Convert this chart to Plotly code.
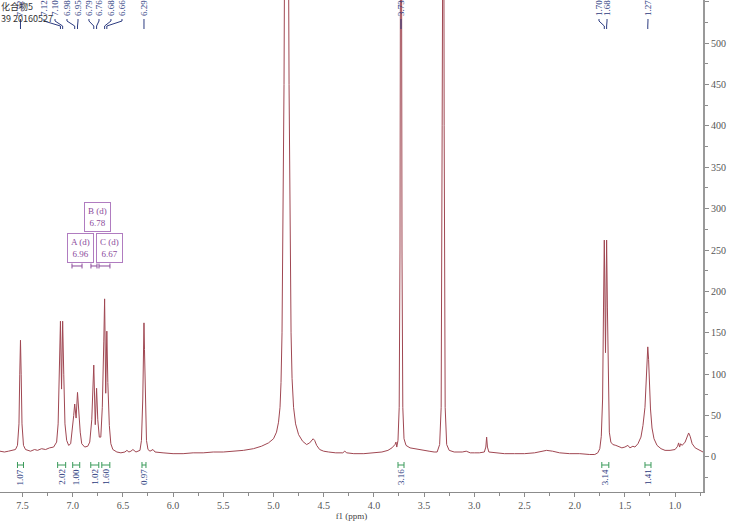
import plotly.graph_objects as go

# ---------------- data ----------------
ppm = [7.724, 7.68, 7.64, 7.60, 7.57, 7.55, 7.535, 7.527, 7.52, 7.513, 7.505, 7.49, 7.47, 7.42, 7.38, 7.35,
       7.31, 7.27, 7.23, 7.19, 7.16, 7.145, 7.133, 7.122, 7.111, 7.100, 7.089, 7.077, 7.06, 7.04, 7.02,
       7.005, 6.99, 6.98, 6.966, 6.952, 6.94, 6.925, 6.91, 6.88, 6.85, 6.83, 6.81, 6.79, 6.775, 6.762,
       6.75, 6.735, 6.72, 6.705, 6.69, 6.682, 6.671, 6.66, 6.65, 6.635, 6.62, 6.60, 6.56, 6.52, 6.48,
       6.46, 6.44, 6.42, 6.40, 6.37, 6.33, 6.315, 6.302, 6.295, 6.29, 6.285, 6.278, 6.265, 6.25, 6.23,
       6.20, 6.18, 6.10, 6.00, 5.90, 5.80, 5.70, 5.60, 5.50, 5.40, 5.30, 5.20, 5.12, 5.05, 5.00, 4.97,
       4.95, 4.935, 4.925, 4.915, 4.905, 4.895, 4.885, 4.875, 4.865, 4.855, 4.845, 4.835, 4.825, 4.815,
       4.80, 4.78, 4.75, 4.71, 4.67, 4.64, 4.62, 4.605, 4.59, 4.57, 4.54, 4.50, 4.45, 4.38, 4.31, 4.29,
       4.27, 4.20, 4.10, 4.00, 3.92, 3.86, 3.82, 3.79, 3.78, 3.772, 3.76, 3.748, 3.74, 3.733, 3.727,
       3.72, 3.712, 3.70, 3.68, 3.64, 3.60, 3.55, 3.50, 3.45, 3.40, 3.37, 3.345, 3.33, 3.32, 3.313,
       3.307, 3.30, 3.29, 3.275, 3.25, 3.20, 3.12, 3.08, 3.04, 3.00, 2.95, 2.90, 2.885, 2.877, 2.869,
       2.855, 2.80, 2.70, 2.60, 2.50, 2.40, 2.33, 2.28, 2.22, 2.15, 2.05, 1.95, 1.85, 1.80, 1.77, 1.75,
       1.735, 1.722, 1.713, 1.705, 1.693, 1.682, 1.674, 1.665, 1.655, 1.64, 1.62, 1.59, 1.56, 1.53,
       1.50, 1.47, 1.45, 1.42, 1.40, 1.37, 1.34, 1.32, 1.30, 1.29, 1.28, 1.272, 1.264, 1.255, 1.245,
       1.23, 1.21, 1.18, 1.14, 1.10, 1.05, 1.00, 0.975, 0.965, 0.955, 0.945, 0.93, 0.90, 0.88, 0.865,
       0.85, 0.83, 0.80, 0.76, 0.722]
intensity = [7, 6, 7, 8, 9, 14, 40, 100, 141, 100, 40, 14, 9, 7, 9, 8,
             10, 9, 11, 12, 18, 40, 100, 164, 82, 164, 100, 40, 20, 14, 16,
             30, 50, 64, 47, 78, 55, 30, 16, 12, 13, 18, 45, 111, 39, 83,
             45, 24, 24, 60, 140, 191, 77, 152, 90, 38, 16, 9, 6, 5, 6,
             8, 6, 7, 9, 6, 8, 20, 70, 130, 162, 130, 70, 20, 9, 7,
             9, 6, 5, 4, 4, 5, 5, 6, 6, 7, 8, 10, 13, 17, 22, 30,
             42, 60, 90, 150, 260, 450, 750, 1000, 1000, 750, 450, 260, 150, 95,
             60, 40, 27, 19, 15, 17, 20, 22, 20, 14, 9, 7, 6, 5, 5, 7,
             5, 4, 4, 5, 6, 8, 11, 15, 18, 12, 20, 60, 250, 800, 800,
             250, 60, 22, 14, 11, 10, 9, 8, 7, 6, 6, 15, 60, 400, 900,
             900, 400, 60, 15, 8, 6, 6, 7, 5, 5, 5, 6, 12, 24, 12,
             6, 5, 4, 4, 4, 5, 7, 8, 7, 5, 4, 4, 3, 3, 5, 10,
             25, 70, 180, 262, 126, 262, 180, 70, 30, 18, 15, 14, 12, 11,
             12, 14, 11, 13, 12, 16, 24, 38, 60, 85, 118, 133, 118, 85, 58,
             35, 22, 14, 10, 8, 8, 9, 13, 17, 12, 16, 14, 18, 25, 29,
             25, 16, 11, 8, 6]

# peak picking labels (top)
peak_shifts = [7.52, 7.12, 7.10, 6.98, 6.95, 6.79, 6.76, 6.68, 6.66, 6.29, 3.73, 1.70, 1.68, 1.27]
peak_label_pos = [7.52, 7.286, 7.176, 7.057, 6.947, 6.838, 6.738, 6.619, 6.509, 6.29, 3.73, 1.758, 1.678, 1.27]
peak_draw_at = [7.52, 7.122, 7.100, 6.98, 6.952, 6.79, 6.762, 6.682, 6.66, 6.29, 3.73, 1.705, 1.682, 1.272]

# multiplet boxes
mult_names = ["A (d)", "B (d)", "C (d)"]
mult_shifts = [6.96, 6.78, 6.67]
mult_box_x = [6.927, 6.748, 6.629]
mult_box_y = [252, 290, 252]
mult_ranges = [(7.007, 6.907), (6.818, 6.758), (6.738, 6.629)]

# integrations
integ_values = ["1.07", "2.02", "1.00", "1.02", "1.60", "0.97", "3.16", "3.14", "1.41"]
integ_ranges = [(7.55, 7.49), (7.15, 7.07), (7.00, 6.93), (6.82, 6.74), (6.71, 6.63),
                (6.31, 6.27), (3.76, 3.70), (1.73, 1.66), (1.30, 1.24)]

x_ticks = [1.0, 1.5, 2.0, 2.5, 3.0, 3.5, 4.0, 4.5, 5.0, 5.5, 6.0, 6.5, 7.0, 7.5]
y_ticks = [0, 50, 100, 150, 200, 250, 300, 350, 400, 450, 500, 550]

# ---------------- figure ----------------
PLOT_H = 492.0
def py(px):
    return 1 - px / PLOT_H

LABEL_C = "#2c3b80"
PURPLE = "#8b4a9b"
GREEN = "#3a9a5a"
SERIF = "Liberation Serif"

fig = go.Figure()
fig.add_trace(go.Scatter(x=ppm, y=intensity, mode="lines",
                         line=dict(color="#a04752", width=1), hoverinfo="skip", showlegend=False))

annotations = []
shapes = []

# top-left title
annotations.append(dict(xref="paper", yref="paper", x=0, y=1, xanchor="left", yanchor="top",
                        text="化合物5<br>39 20160527", align="left", showarrow=False,
                        font=dict(family="Noto Sans CJK SC", size=9, color="#333333"),
                        borderpad=0, yshift=1))

# peak labels
for s, lp, pk in zip(peak_shifts, peak_label_pos, peak_draw_at):
    annotations.append(dict(xref="x", yref="paper", x=lp, y=1, yanchor="top", xanchor="center",
                            text=f"{s:.2f}", textangle=-90, showarrow=False, borderpad=0,
                            font=dict(family=SERIF, size=9, color=LABEL_C), yshift=1))
    shapes.append(dict(type="path", xref="x", yref="paper",
                       path=f"M {lp},{py(19)} L {lp},{py(21)} L {pk},{py(26)} L {pk},{py(29)}",
                       line=dict(color=LABEL_C, width=1)))

# multiplet boxes
for name, sh, bx, by, (r1, r2) in zip(mult_names, mult_shifts, mult_box_x, mult_box_y, mult_ranges):
    annotations.append(dict(xref="x", yref="y", x=bx, y=by, text=f"{name}<br>{sh:.2f}",
                            showarrow=False, bordercolor="#b07cc0", borderwidth=1, borderpad=3,
                            bgcolor="white", font=dict(family=SERIF, size=9, color=PURPLE)))
    yb = 230.7
    shapes.append(dict(type="line", xref="x", yref="y", x0=r1, x1=r2, y0=yb, y1=yb,
                       line=dict(color=PURPLE, width=1)))
    for r in (r1, r2):
        shapes.append(dict(type="line", xref="x", yref="y", x0=r, x1=r, y0=yb - 3, y1=yb + 3,
                           line=dict(color=PURPLE, width=1)))

# integrations
for val, (r1, r2) in zip(integ_values, integ_ranges):
    yi = py(465)
    shapes.append(dict(type="line", xref="x", yref="paper", x0=r1, x1=r2, y0=yi, y1=yi,
                       line=dict(color=GREEN, width=1)))
    for r in (r1, r2):
        shapes.append(dict(type="line", xref="x", yref="paper", x0=r, x1=r, y0=yi - 3 / PLOT_H,
                           y1=yi + 3 / PLOT_H, line=dict(color=GREEN, width=1)))
    annotations.append(dict(xref="x", yref="paper", x=(r1 + r2) / 2, y=py(468), yanchor="top",
                            text=val, textangle=-90, showarrow=False, borderpad=0,
                            font=dict(family=SERIF, size=9, color=LABEL_C)))

fig.update_layout(
    width=750, height=522,
    margin=dict(l=0, r=47, t=0, b=30),
    paper_bgcolor="white", plot_bgcolor="white",
    showlegend=False,
    annotations=annotations,
    shapes=shapes,
    xaxis=dict(range=[7.724, 0.722], showgrid=False, zeroline=False,
               showline=True, linecolor="#8c8c8c", linewidth=1,
               ticks="outside", ticklen=4, tickcolor="#8c8c8c",
               tickvals=x_ticks, ticktext=[f"{t:.1f}" for t in x_ticks],
               minor=dict(dtick=0.25, tick0=0, ticks="outside", ticklen=3, tickcolor="#8c8c8c"),
               tickfont=dict(family=SERIF, size=10, color="#555555"),
               title=dict(text="f1 (ppm)", font=dict(family=SERIF, size=9, color="#444444"), standoff=2)),
    yaxis=dict(range=[-42.3, 552], side="right", showgrid=False, zeroline=False,
               showline=True, linecolor="#999999", linewidth=2,
               ticks="outside", ticklen=4, tickcolor="#8c8c8c",
               tickvals=y_ticks, ticktext=[str(t) for t in y_ticks],
               minor=dict(dtick=25, tick0=0, ticks="outside", ticklen=3, tickcolor="#8c8c8c"),
               tickfont=dict(family=SERIF, size=10, color="#555555")),
)

fig.write_html("out.html",
               config={"displayModeBar": False, "staticPlot": True},
               post_script="document.body.style.margin='0';document.body.style.padding='0';"
                           "document.documentElement.style.overflow='hidden';")
